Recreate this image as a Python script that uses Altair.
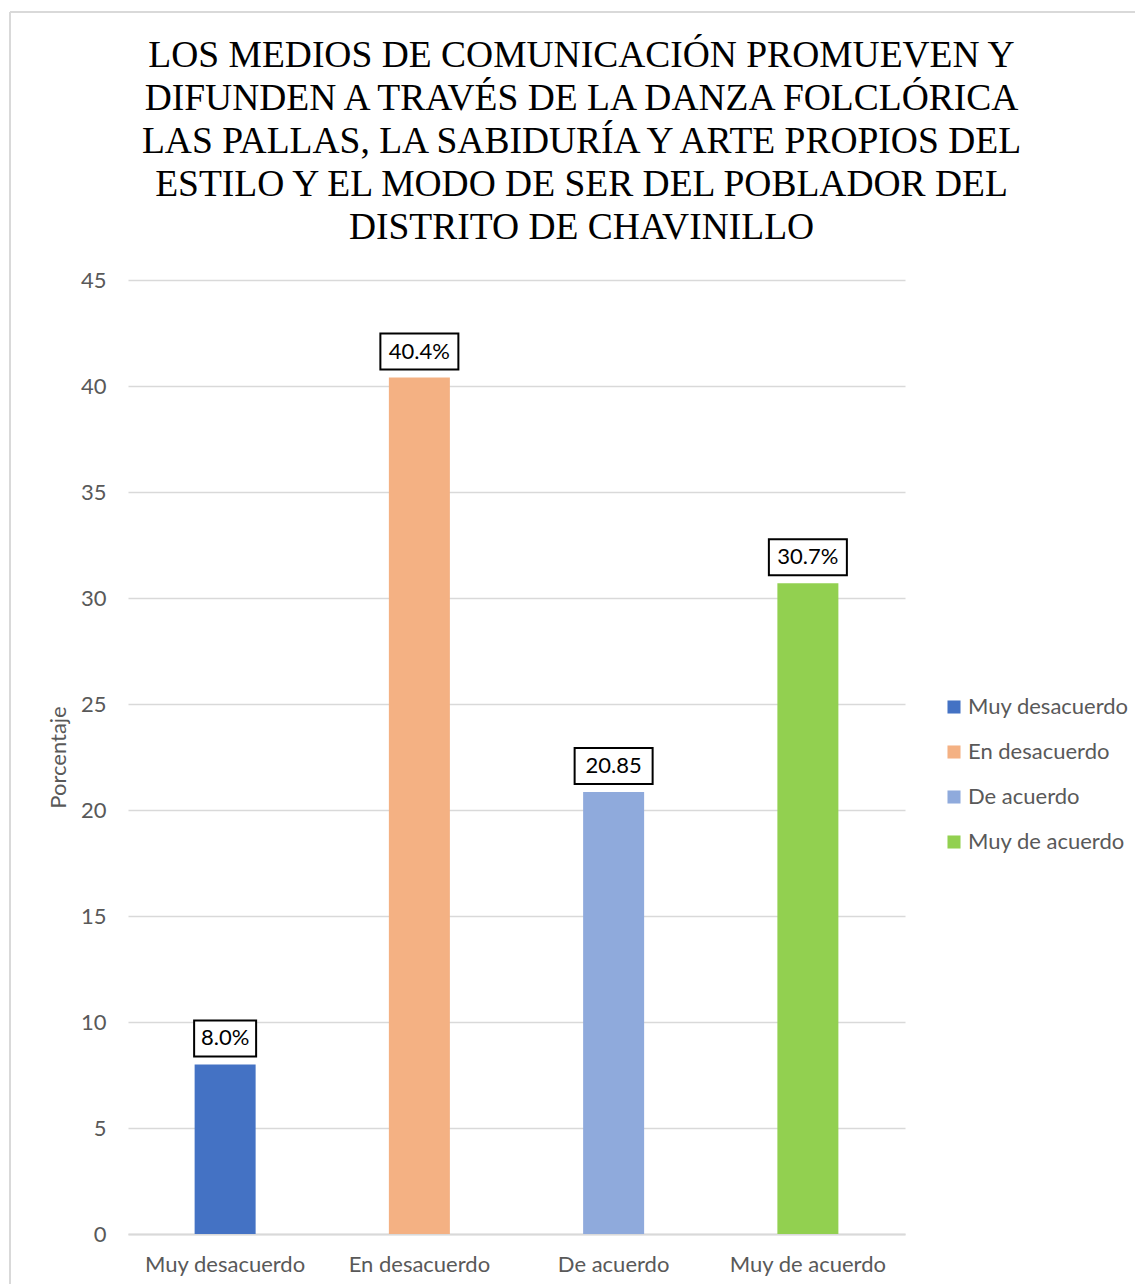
import altair as alt
import pandas as pd

categories = ["Muy desacuerdo", "En desacuerdo", "De acuerdo", "Muy de acuerdo"]
values = [8.0, 40.4, 20.85, 30.7]
labels = ["8.0%", "40.4%", "20.85", "30.7%"]
colors = ["#4472C4", "#F4B183", "#8FAADC", "#92D050"]
y_ticks = [0, 5, 10, 15, 20, 25, 30, 35, 40, 45]
title_lines = [
    "LOS MEDIOS DE COMUNICACIÓN PROMUEVEN Y",
    "DIFUNDEN A TRAVÉS DE LA DANZA FOLCLÓRICA",
    "LAS PALLAS, LA SABIDURÍA Y ARTE PROPIOS DEL",
    "ESTILO Y EL MODO DE SER DEL POBLADOR DEL",
    "DISTRITO DE CHAVINILLO",
]

df = pd.DataFrame({"cat": categories, "value": values, "label": labels})

FONT = "Lato"
GRAY = "#595959"
FS = 22

x = alt.X("cat:N", sort=categories, title=None,
          axis=alt.Axis(labelAngle=0, labelFont=FONT, labelFontSize=FS, labelColor=GRAY,
                        labelPadding=20, ticks=False, domainColor="#D9D9D9", domainWidth=2))
y = alt.Y("value:Q", scale=alt.Scale(domain=[0, 45], nice=False), title="Porcentaje",
          axis=alt.Axis(values=y_ticks, labelFont=FONT, labelFontSize=FS, labelColor=GRAY,
                        labelPadding=22, ticks=False, domain=False, gridColor="#D9D9D9",
                        gridWidth=1.5, titleFont=FONT, titleFontSize=FS, titleColor=GRAY,
                        titleFontWeight="normal", titlePadding=10))

bars = alt.Chart(df).mark_bar(size=61).encode(
    x=x, y=y,
    color=alt.Color("cat:N", sort=categories,
                    scale=alt.Scale(domain=categories, range=colors),
                    legend=alt.Legend(title=None, orient="none", legendX=815, legendY=416,
                                      symbolType="square", symbolSize=170, symbolStrokeWidth=0,
                                      labelFont=FONT, labelFontSize=FS, labelColor=GRAY,
                                      labelLimit=400, rowPadding=23, labelOffset=3)),
)

boxes = alt.Chart(df).transform_calculate(
    w="16*length(datum.label)-2"
).mark_bar(fill="white", stroke="black", strokeWidth=2, yOffset=-8, y2Offset=-44).encode(
    x=alt.X("cat:N", sort=categories),
    y="value:Q",
    y2="value:Q",
    size=alt.Size("w:Q", scale=None, legend=None),
)

texts = alt.Chart(df).mark_text(font=FONT, fontSize=FS, color="black", dy=-26,
                                baseline="middle").encode(
    x=alt.X("cat:N", sort=categories),
    y="value:Q",
    text="label:N",
)

frame_left = alt.Chart(df).mark_rule(color="#D9D9D9", strokeWidth=2, clip=False).encode(
    x=alt.value(-118), y=alt.value(-268), y2=alt.value(1020))
frame_top = alt.Chart(df).mark_rule(color="#D9D9D9", strokeWidth=2, clip=False).encode(
    x=alt.value(-118), x2=alt.value(1040), y=alt.value(-268))

chart = alt.layer(frame_left, frame_top, bars, boxes, texts).properties(
    width=777, height=954,
    title=alt.TitleParams(text=title_lines, font="Liberation Serif", fontSize=37.5,
                          fontWeight="normal", color="black", lineHeight=43,
                          anchor="middle", dx=65, offset=-235),
    autosize=alt.AutoSizeParams(type="none"),
    padding={"left": 120, "top": 272, "right": 230, "bottom": 50},
).configure_view(stroke=None)

chart.save("out.html", embed_options={"renderer": "svg", "actions": False})
